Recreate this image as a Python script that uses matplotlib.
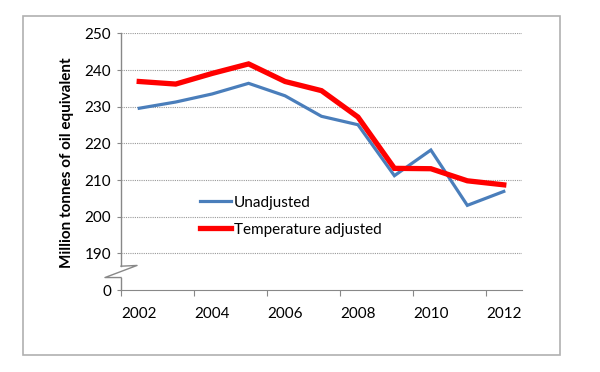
import matplotlib.pyplot as plt
from matplotlib.patches import Rectangle

# Energy consumption, million tonnes of oil equivalent
years = [2002, 2003, 2004, 2005, 2006, 2007, 2008, 2009, 2010, 2011, 2012]
unadjusted = [229.6, 231.3, 233.5, 236.4, 233.0, 227.4, 225.1, 211.2, 218.2, 203.1, 206.9]
temp_adjusted = [236.9, 236.2, 239.1, 241.7, 236.9, 234.4, 227.2, 213.2, 213.1, 209.8, 208.7]

y_ticks = [180, 190, 200, 210, 220, 230, 240, 250]   # 180 stands in for 0 (broken axis)
y_labels = ['0', '190', '200', '210', '220', '230', '240', '250']
x_labels = ['2002', '2004', '2006', '2008', '2010', '2012']

plt.rcParams['font.family'] = ['Lato', 'DejaVu Sans']
fs = 11

fig = plt.figure(figsize=(6, 3.72), dpi=100)
fig.patches.append(Rectangle((23 / 600, 1 - 355 / 372), 537 / 600, 339 / 372,
                             transform=fig.transFigure, fill=False,
                             edgecolor='#b0b0b0', lw=1.2))

ax = fig.add_axes([121 / 600, 1 - 290 / 372, 401 / 600, 256.5 / 372])

ax.plot(years, unadjusted, color='#4a7ebb', lw=2.3, label='Unadjusted', solid_joinstyle='miter')
ax.plot(years, temp_adjusted, color='#ff0000', lw=3.8, label='Temperature adjusted', solid_joinstyle='miter')

ax.set_xlim(2001.5, 2012.5)
ax.set_ylim(180, 250)

# tick marks between categories, labels on every second category
ax.set_xticks([2001.5, 2003.5, 2005.5, 2007.5, 2009.5, 2011.5])
ax.set_xticklabels([])
ax.set_xticks(years[::2], minor=True)
ax.set_xticklabels(x_labels, minor=True, fontsize=fs)
ax.tick_params(axis='x', which='major', length=4, color='#888888', direction='out')
ax.tick_params(axis='x', which='minor', length=0, pad=12)

ax.set_yticks(y_ticks)
ax.set_yticklabels(y_labels, fontsize=fs)
ax.tick_params(axis='y', length=3, color='#888888', pad=4)

for y in y_ticks[1:]:
    ax.axhline(y, color='#999999', lw=0.8, ls=(0, (1, 1)), zorder=0)

for s in ['top', 'right', 'left']:
    ax.spines[s].set_visible(False)
ax.spines['bottom'].set_color('#888888')

# left axis with a break between 0 and 190
tr = ax.get_yaxis_transform()
ax.plot([0, 0], [186.5, 250], color='#888888', lw=1, transform=tr, clip_on=False)
ax.plot([0, 0], [180, 183.4], color='#888888', lw=1, transform=tr, clip_on=False)
ax.plot([0, 0.04, -0.04, 0], [186.5, 186.7, 183.4, 183.4], color='#888888', lw=1,
        transform=tr, clip_on=False)

fig.text(67 / 600, 1 - 163 / 372, 'Million tonnes of oil equivalent', rotation=90,
         ha='center', va='center', fontsize=fs, fontweight='bold')

ax.legend(loc='center left', bbox_to_anchor=(0.197, 0.288), frameon=False,
          fontsize=fs, handlelength=2.0, handletextpad=0.2, labelspacing=0.85,
          borderpad=0, borderaxespad=0)

fig.savefig('out.png', dpi=100)
